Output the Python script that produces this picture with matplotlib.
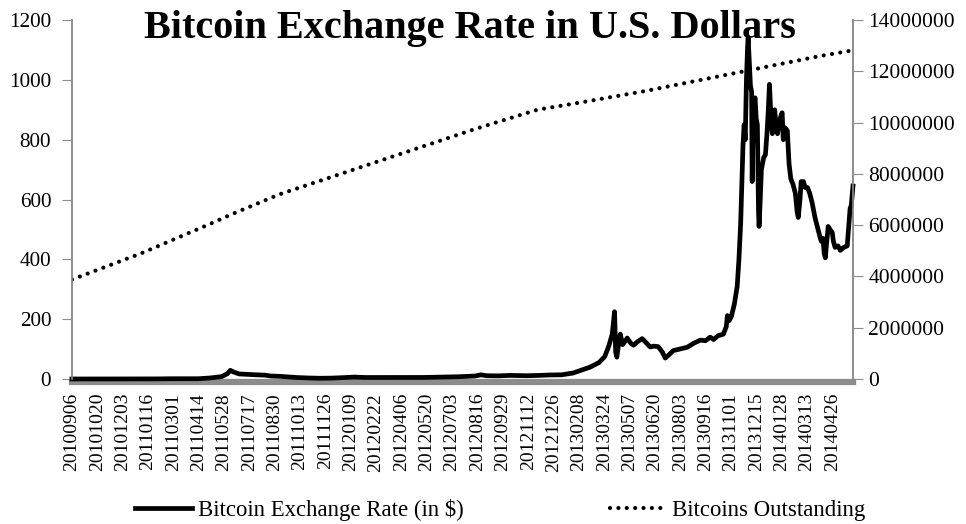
import matplotlib
matplotlib.use("Agg")
import matplotlib.pyplot as plt
from matplotlib.lines import Line2D

plt.rcParams['font.family'] = ['Liberation Serif', 'DejaVu Serif']

# x tick labels (one every 44 categories)
tick_labels = ['20100906', '20101020', '20101203', '20110116', '20110301',
               '20110414', '20110528', '20110717', '20110830', '20111013',
               '20111126', '20120109', '20120222', '20120406', '20120520',
               '20120703', '20120816', '20120929', '20121112', '20121226',
               '20130208', '20130324', '20130507', '20130620', '20130803',
               '20130916', '20131101', '20131215', '20140128', '20140313',
               '20140426']
tick_step = 44
n_cat = 1357

# exchange rate (category index, $)
rate_idx = [0, 30, 60, 80, 100, 130, 150, 170, 190, 210, 220, 240, 260, 270,
            275, 280, 290, 300, 320, 335, 345, 360, 375, 390, 410, 430, 450,
            470, 490, 510, 540, 580, 610, 640, 670, 700, 710, 720, 740, 760,
            790, 810, 830, 850, 870, 885, 900, 915, 925, 932, 938, 942, 944,
            946, 950, 952, 956, 960, 964, 970, 975, 982, 990, 995, 1004, 1010,
            1018, 1025, 1030, 1036, 1044, 1055, 1068, 1080, 1091, 1100, 1108,
            1114, 1122, 1131, 1136, 1138, 1141, 1145, 1150, 1155, 1158, 1161,
            1163, 1165, 1167, 1169, 1171, 1173, 1174, 1176, 1178, 1180, 1181,
            1182, 1184, 1186, 1188, 1190, 1192, 1193, 1195, 1197, 1199, 1201,
            1204, 1207, 1209, 1211, 1213, 1216, 1218, 1220, 1222, 1225, 1228,
            1231, 1233, 1235, 1238, 1242, 1245, 1248, 1252, 1256, 1259, 1261,
            1264, 1266, 1268, 1270, 1273, 1277, 1281, 1285, 1290, 1294, 1298,
            1301, 1304, 1306, 1308, 1310, 1313, 1316, 1320, 1322, 1325, 1330,
            1334, 1340, 1346, 1349, 1351, 1353, 1356]
rate_val = [0.06, 0.06, 0.1, 0.25, 0.3, 0.3, 0.4, 0.9, 0.9, 0.8, 1.0, 3.5, 8,
            18, 29, 24, 17, 16, 14, 13, 10, 9, 7, 5, 3.5, 2.5, 3, 4.5, 6.5, 5,
            5, 5, 5.2, 6.5, 7.5, 10, 14, 11, 10.5, 12, 11, 12, 13.5, 14, 20, 30,
            40, 55, 75, 110, 150, 225, 90, 73, 130, 150, 115, 125, 137, 120,
            113, 125, 135, 125, 107, 110, 108, 90, 70, 80, 95, 100, 106, 120,
            130, 128, 140, 132, 145, 150, 175, 212, 195, 210, 250, 310, 400,
            520, 650, 780, 850, 800, 1000, 1110, 1140, 1060, 980, 960, 660,
            780, 920, 940, 870, 850, 560, 510, 600, 700, 720, 740, 750, 830,
            900, 985, 900, 820, 880, 900, 860, 820, 860, 880, 890, 800, 840,
            830, 720, 670, 650, 620, 560, 540, 600, 660, 650, 660, 640, 640,
            620, 590, 540, 510, 480, 460, 470, 420, 405, 450, 510, 500, 490,
            460, 440, 445, 430, 440, 445, 520, 570, 580, 645]

# bitcoins outstanding (category index, coins)
coins_idx = [0, 120, 240, 280, 360, 480, 600, 700, 808, 900, 1000, 1100,
             1200, 1300, 1356]
coins_val = [3880000, 4900000, 6050000, 6450000, 7200000, 8100000, 9000000,
             9750000, 10500000, 10850000, 11250000, 11700000, 12150000,
             12600000, 12820000]

grey = '#8c8c8c'
dots = (0, (0.01, 2.0))

fig = plt.figure(figsize=(9.66, 5.24), dpi=100)
ax = fig.add_axes([0.0745, 0.2767, 0.8085, 0.6851])
ax2 = ax.twinx()

ax.plot(rate_idx, rate_val, color='black', lw=3.4, solid_joinstyle='round',
        zorder=3, clip_on=False)
ax2.plot(coins_idx, coins_val, color='black', lw=3.0, linestyle=dots,
         dash_capstyle='round')

ax.set_xlim(0, n_cat - 1)
ax.set_ylim(0, 1200)
ax.set_yticks(range(0, 1201, 200))
ax2.set_ylim(0, 14000000)
ax2.set_yticks(range(0, 14000001, 2000000))
ax2.set_yticklabels([str(v) for v in range(0, 14000001, 2000000)])

ax.set_xticks([i * tick_step for i in range(len(tick_labels))])
ax.set_xticklabels(tick_labels)
ax.tick_params(axis='x', length=0, pad=8, labelrotation=90, labelsize=14)
ax.tick_params(axis='y', labelsize=15.2, length=7, color=grey, pad=8)
ax2.tick_params(axis='y', labelsize=15.5, length=7, color=grey, pad=4)

for a in (ax, ax2):
    a.spines['top'].set_visible(False)
    a.spines['left'].set_color(grey)
    a.spines['right'].set_color(grey)
    a.spines['left'].set_linewidth(1.2)
    a.spines['right'].set_linewidth(1.2)
ax2.spines['bottom'].set_visible(False)
ax.spines['bottom'].set_color(grey)
ax.spines['bottom'].set_linewidth(4.5)
ax.spines['bottom'].set_position(('outward', 2))
ax.spines['bottom'].set_zorder(1)

fig.text(0.4865, 0.9275, 'Bitcoin Exchange Rate in U.S. Dollars', ha='center',
         va='baseline', fontsize=29, fontweight='bold')

handles = [Line2D([], [], color='black', lw=3.4),
           Line2D([], [], color='black', lw=3.0, linestyle=dots,
                  dash_capstyle='round')]
fig.legend(handles, ['Bitcoin Exchange Rate (in $)', 'Bitcoins Outstanding'],
           loc='center', bbox_to_anchor=(0.518, 0.027), ncol=2, frameon=False,
           fontsize=16.4, handlelength=2.5, handletextpad=0.25,
           columnspacing=6.4)

fig.savefig('out.png', dpi=100)
